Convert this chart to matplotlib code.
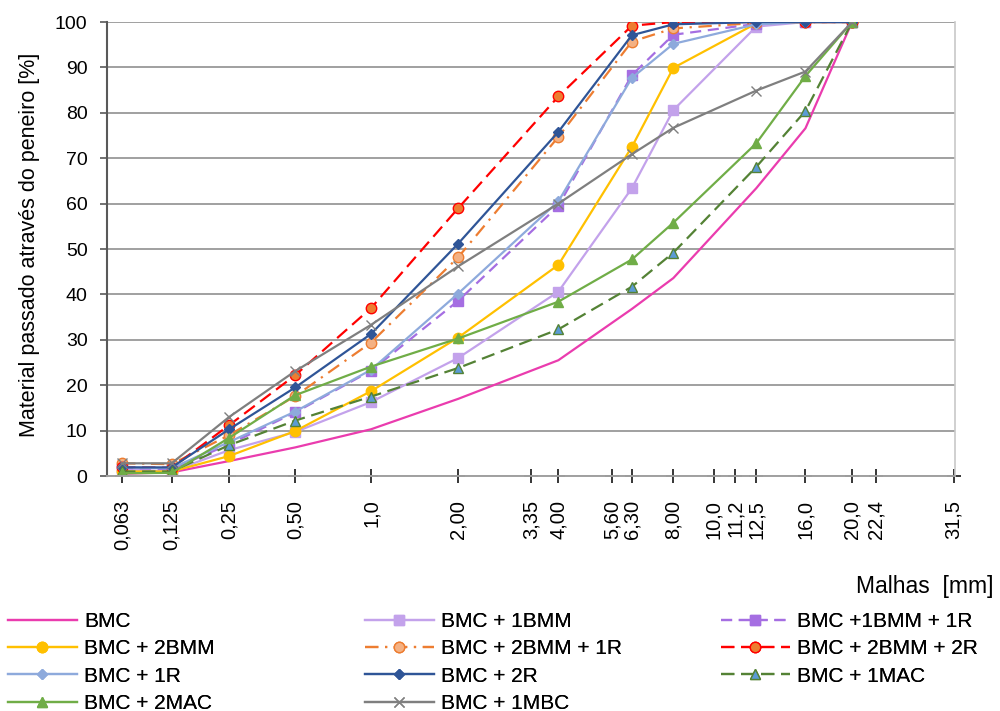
import numpy as np
import matplotlib
matplotlib.use("Agg")
import matplotlib.pyplot as plt

plt.rcParams['font.family'] = ['Liberation Sans', 'DejaVu Sans']

# sieve openings used by the curves (mm)
sizes = [0.063, 0.125, 0.25, 0.5, 1.0, 2.0, 4.0, 6.3, 8.0, 12.5, 16.0, 20.0]

# sieves shown on the axis
sieves = [0.063, 0.125, 0.25, 0.5, 1.0, 2.0, 3.35, 4.0, 5.6, 6.3, 8.0,
          10.0, 11.2, 12.5, 16.0, 20.0, 22.4, 31.5]
sieve_labels = ['0,063', '0,125', '0,25', '0,50', '1,0', '2,00', '3,35', '4,00',
                '5,60', '6,30', '8,00', '10,0', '11,2', '12,5', '16,0', '20,0',
                '22,4', '31,5']

bmc = [0.5, 0.8, 3.3, 6.3, 10.3, 17.0, 25.5, 36.8, 43.6, 63.4, 76.6, 100]
bmc_1bmm = [1.5, 1.0, 5.7, 9.7, 16.3, 26.0, 40.6, 63.4, 80.6, 99.0, 100, 100]
bmc_1bmm_1r = [1.8, 1.5, 7.0, 14.0, 23.2, 38.6, 59.5, 88.3, 97.2, 99.6, 100, 100]
bmc_2bmm = [1.0, 1.0, 4.4, 9.9, 18.7, 30.5, 46.5, 72.5, 89.9, 99.7, 100, 100]
bmc_2bmm_1r = [2.8, 2.6, 9.0, 17.6, 29.4, 48.2, 74.7, 95.7, 98.6, 99.8, 100, 100]
bmc_2bmm_2r = [2.0, 1.8, 11.2, 22.2, 37.0, 59.0, 83.6, 99.2, 100, 100, 100, 100]
bmc_1r = [1.9, 1.7, 7.5, 14.2, 23.4, 40.2, 60.5, 87.7, 95.2, 99.5, 100, 100]
bmc_2r = [1.9, 1.9, 10.3, 19.5, 31.3, 51.2, 75.8, 97.1, 99.5, 100, 100, 100]
bmc_1mac = [1.0, 1.0, 6.8, 12.2, 17.5, 23.8, 32.3, 41.7, 49.2, 68.1, 80.4, 100]
bmc_2mac = [0.6, 0.7, 8.4, 17.8, 24.1, 30.3, 38.4, 47.7, 55.8, 73.3, 88.1, 100]
bmc_1mbc = [2.8, 2.8, 13.0, 23.1, 33.3, 46.2, 60.0, 70.9, 76.7, 84.9, 89.1, 100]

fig = plt.figure(figsize=(10, 7.11), dpi=100)
ax = fig.add_axes([0.107, 0.3305, 0.848, 0.6385])

ax.set_xscale('function', functions=(lambda v: np.power(np.clip(v, 1e-9, None), 0.2),
                                     lambda v: np.power(np.clip(v, 0, None), 5)))

lw = 1.6
ms = 6.5
h = {}
h['BMC'], = ax.plot(sizes, bmc, color='#EA3CAE', lw=lw)
h['BMC + 1BMM'], = ax.plot(sizes, bmc_1bmm, color='#C3A2EB', lw=lw, marker='s', ms=ms)
h['BMC +1BMM + 1R'], = ax.plot(sizes, bmc_1bmm_1r, color='#A56EE2', lw=lw, marker='s', ms=ms,
                               dashes=(5, 3))
h['BMC + 2BMM'], = ax.plot(sizes, bmc_2bmm, color='#FFC000', lw=lw, marker='o', ms=ms + 1)
h['BMC + 2BMM + 1R'], = ax.plot(sizes, bmc_2bmm_1r, color='#ED7D31', lw=lw, marker='o', ms=ms + 1,
                                mfc='#F4B183', mec='#ED7D31', dashes=(6, 3, 1, 3))
h['BMC + 2BMM + 2R'], = ax.plot(sizes, bmc_2bmm_2r, color='#FF0000', lw=lw, marker='o', ms=ms + 1,
                                mfc='#ED7D31', mec='#FF0000', dashes=(6, 3))
h['BMC + 1R'], = ax.plot(sizes, bmc_1r, color='#8EAADC', lw=lw, marker='D', ms=ms - 1.5)
h['BMC + 2R'], = ax.plot(sizes, bmc_2r, color='#2F5597', lw=lw, marker='D', ms=ms - 1.5)
h['BMC + 1MAC'], = ax.plot(sizes, bmc_1mac, color='#548235', lw=lw, marker='^', ms=ms,
                           mfc='#5B9BD5', mec='#548235', dashes=(6, 3))
h['BMC + 2MAC'], = ax.plot(sizes, bmc_2mac, color='#70AD47', lw=lw, marker='^', ms=ms)
h['BMC + 1MBC'], = ax.plot(sizes, bmc_1mbc, color='#7F7F7F', lw=lw, marker='x', ms=ms,
                           mew=1.0)

# sieve markers along the axis
ax.plot(sieves, np.zeros(len(sieves)), linestyle='none', marker='+', color='black',
        ms=10, mew=1.1, clip_on=False, zorder=1)

ax.set_xlim(0.0501, 31.7)
ax.set_ylim(0, 100)
ax.set_xticks(sieves)
ax.set_xticklabels(sieve_labels, rotation=90, ha='center', va='top', fontsize=14.5)
ax.tick_params(axis='x', length=0, pad=17)
ax.xaxis.set_minor_locator(matplotlib.ticker.NullLocator())
ax.set_yticks(np.arange(0, 101, 10))
ax.tick_params(axis='y', direction='out', length=5, width=1.2, color='#595959',
               labelsize=14, pad=9)
ax.grid(axis='y', color='#A0A0A0', lw=1.4)
ax.set_axisbelow(True)

ax.spines['top'].set_visible(False)
ax.spines['left'].set_color('#595959')
ax.spines['left'].set_linewidth(1.5)
ax.spines['bottom'].set_color('#A0A0A0')
ax.spines['bottom'].set_linewidth(1.4)
ax.spines['right'].set_color('#C8C8C8')
ax.spines['right'].set_linewidth(1.2)

fig.text(0.030, 1 - 245 / 711, 'Material passado através do peneiro [%]', rotation=90,
         ha='center', va='center', fontsize=15.5)
fig.text(0.993, 1 - 586 / 711, 'Malhas  [mm]', ha='right', va='center', fontsize=16.5)

columns = [
    ['BMC', 'BMC + 2BMM', 'BMC + 1R', 'BMC + 2MAC'],
    ['BMC + 1BMM', 'BMC + 2BMM + 1R', 'BMC + 2R', 'BMC + 1MBC'],
    ['BMC +1BMM + 1R', 'BMC + 2BMM + 2R', 'BMC + 1MAC'],
]
col_x = [8, 365, 721]
for names, x0 in zip(columns, col_x):
    leg = fig.legend([h[n] for n in names], names, loc='upper left',
                     bbox_to_anchor=(x0 / 1000, 1 - 612 / 711), frameon=False,
                     fontsize=15, handlelength=3.3, handletextpad=0.34,
                     labelspacing=0.4, borderpad=0, borderaxespad=0)
    fig.add_artist(leg)

fig.savefig('out.png', dpi=100)
